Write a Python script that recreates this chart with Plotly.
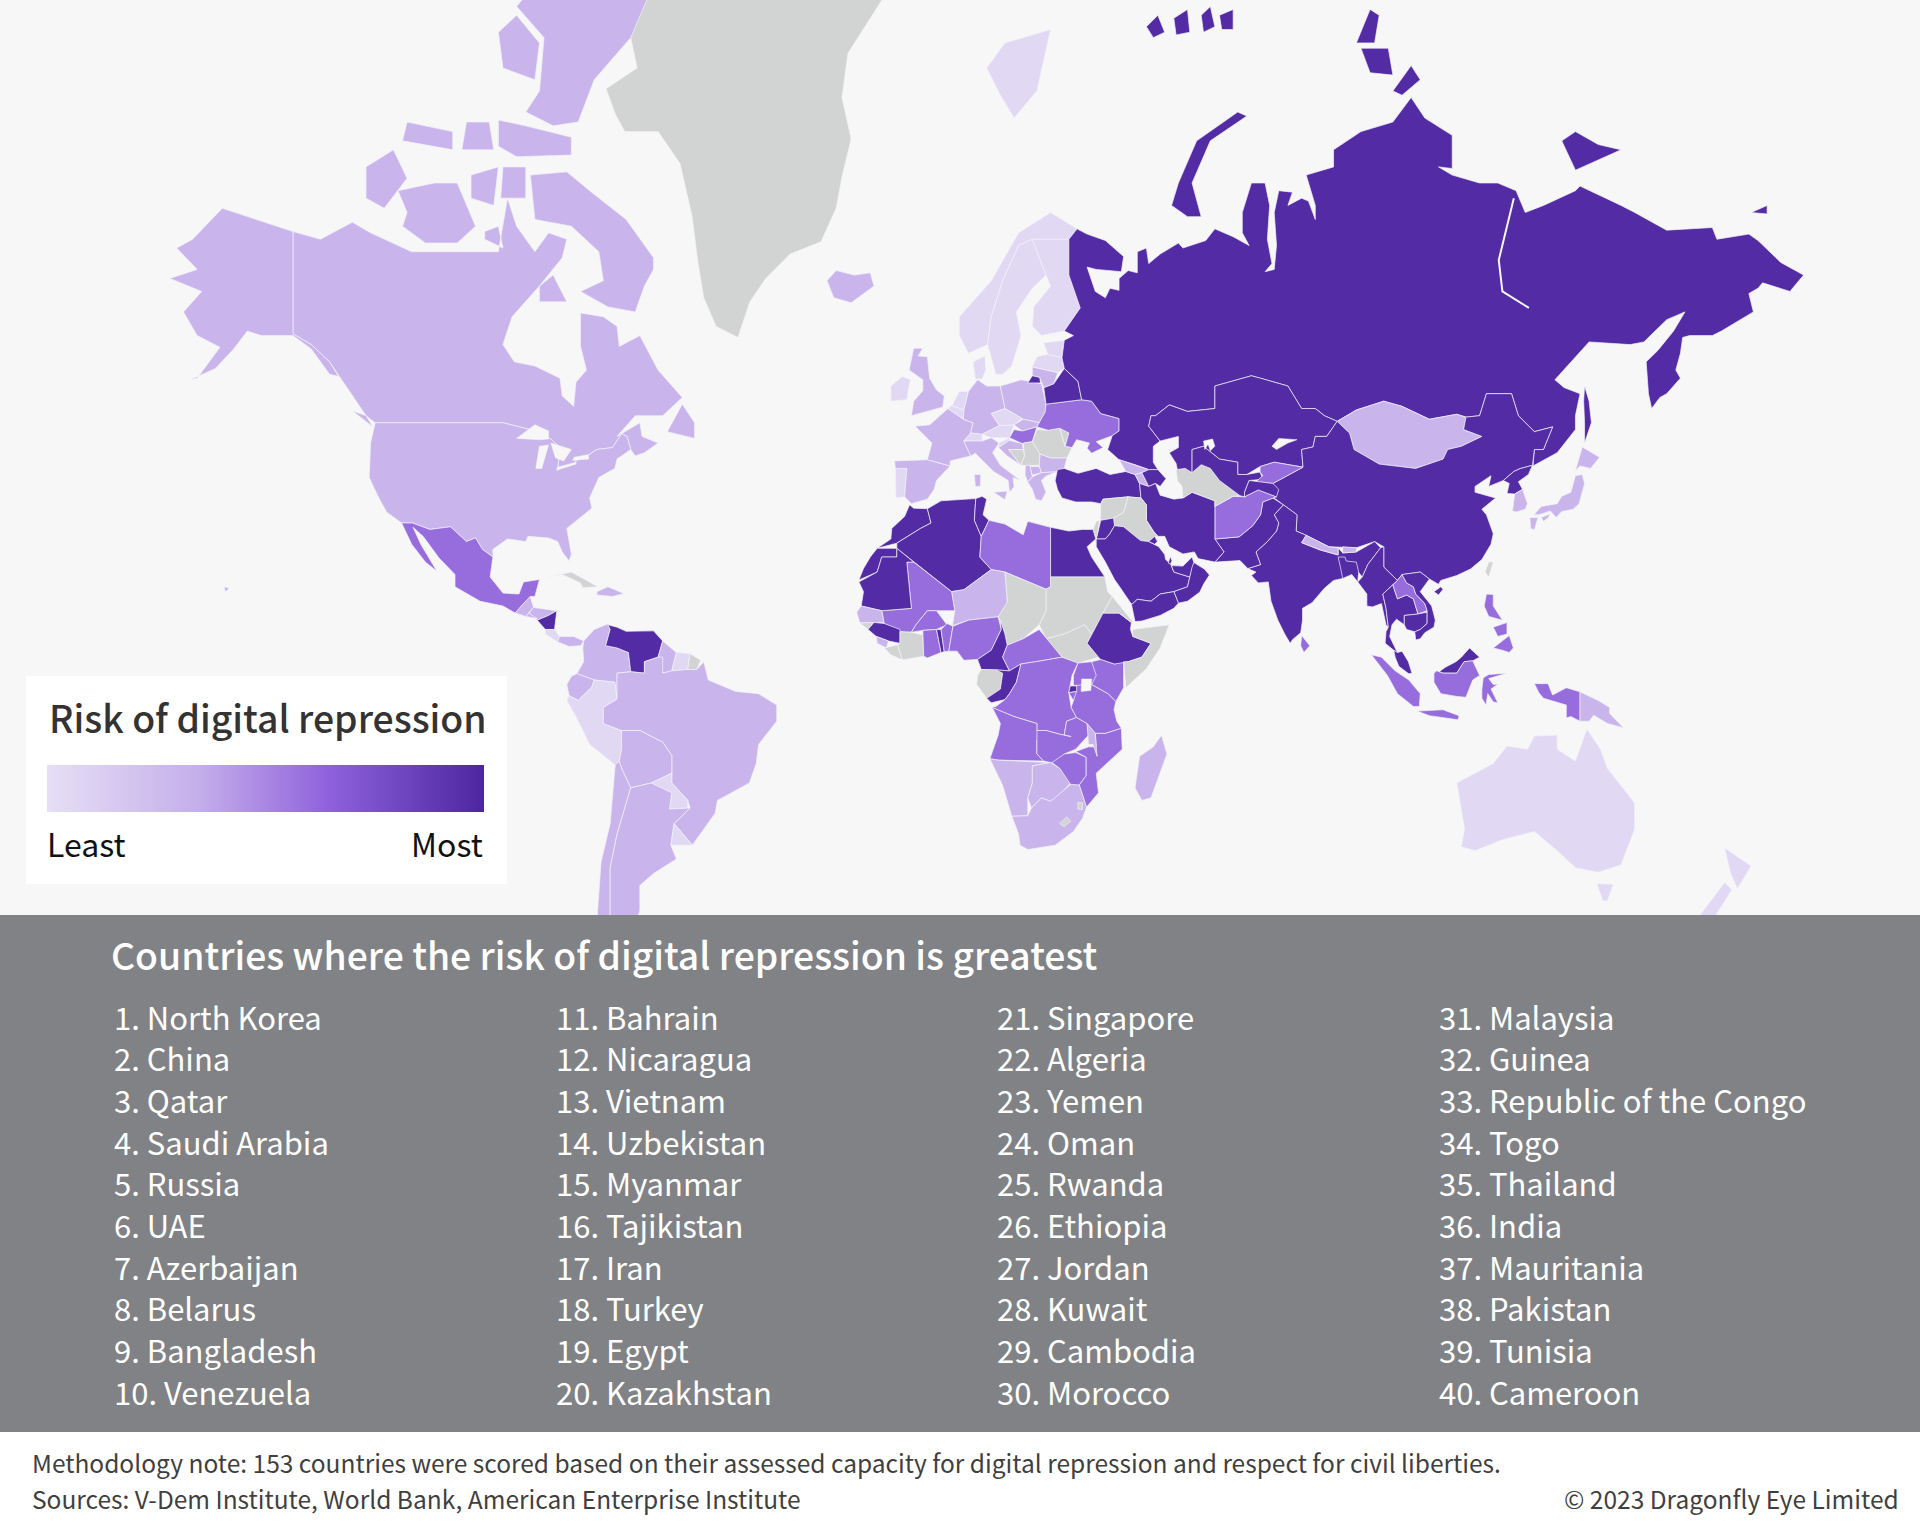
import math
import plotly.graph_objects as go
from plotly.colors import sample_colorscale

# --- text ---
legend_title = "Risk of digital repression"
panel_title = "Countries where the risk of digital repression is greatest"
ranked = [
    "North Korea", "China", "Qatar", "Saudi Arabia", "Russia", "UAE", "Azerbaijan", "Belarus", "Bangladesh", "Venezuela",
    "Bahrain", "Nicaragua", "Vietnam", "Uzbekistan", "Myanmar", "Tajikistan", "Iran", "Turkey", "Egypt", "Kazakhstan",
    "Singapore", "Algeria", "Yemen", "Oman", "Rwanda", "Ethiopia", "Jordan", "Kuwait", "Cambodia", "Morocco",
    "Malaysia", "Guinea", "Republic of the Congo", "Togo", "Thailand", "India", "Mauritania", "Pakistan", "Tunisia", "Cameroon",
]
note_1 = "Methodology note: 153 countries were scored based on their assessed capacity for digital repression and respect for civil liberties."
note_2 = "Sources: V-Dem Institute, World Bank, American Enterprise Institute"
copyright_text = "© 2023 Dragonfly Eye Limited"

# --- risk tiers (0 = least, 1 = most) ---
tier_values = {"top": 0.97, "upper": 0.60, "lower": 0.30, "least": 0.05}
top_risk = ["Russia", "China", "Kazakhstan", "Uzbekistan", "Tajikistan", "Iran", "Turkey", "Azerbaijan", "Jordan", "Saudi Arabia",
            "Kuwait", "Qatar", "UAE", "Oman", "Yemen", "Egypt", "Algeria", "Tunisia", "Morocco", "Western Sahara", "Mauritania",
            "Guinea", "Togo", "Cameroon", "Republic of the Congo", "Rwanda", "Ethiopia", "India", "Pakistan", "Bangladesh",
            "Myanmar", "Thailand", "Vietnam", "Cambodia", "Malaysia", "North Korea", "Belarus", "Venezuela", "Nicaragua"]
upper_risk = ["Mexico", "Libya", "Mali", "Burkina Faso", "Benin", "Ghana", "Nigeria", "Central African Republic", "DR Congo", "Angola",
              "Zambia", "Zimbabwe", "Mozambique", "Tanzania", "Kenya", "Uganda", "Burundi", "Ukraine", "Hungary", "Afghanistan",
              "Kyrgyzstan", "Laos", "Indonesia", "Philippines", "Sri Lanka"]
lower_risk = ["Canada", "USA", "Colombia", "Ecuador", "Brazil", "Bolivia", "Chile", "Argentina", "Guyana", "Guatemala", "Honduras",
              "El Salvador", "Panama", "Dominican Republic", "Niger", "Senegal", "Sierra Leone", "Namibia", "Botswana", "South Africa",
              "Madagascar", "Malawi", "Spain", "France", "UK", "Iceland", "Germany", "Poland", "Italy", "Lithuania", "Croatia",
              "Albania", "North Macedonia", "Greece", "Bulgaria", "Slovakia", "Georgia", "Armenia", "Mongolia", "Nepal", "Bhutan",
              "South Korea", "Japan", "Papua New Guinea"]
least_risk = ["Portugal", "Ireland", "Norway", "Sweden", "Finland", "Denmark", "Estonia", "Latvia", "Netherlands", "Belgium", "Switzerland",
              "Austria", "Czechia", "Slovenia", "Peru", "Paraguay", "Uruguay", "Suriname", "Costa Rica", "Australia", "New Zealand"]
no_score = ["Greenland", "Cuba", "Romania", "Moldova", "Serbia", "Bosnia", "Syria", "Iraq", "Israel", "Turkmenistan", "Sudan", "South Sudan",
            "Chad", "Gabon", "Guinea-Bissau", "Liberia", "Ivory Coast", "Eritrea", "Somalia", "Lesotho", "Eswatini", "French Guiana", "Taiwan"]

# --- simplified outlines, "lon,lat" pairs; longitudes past 180 keep Chukotka joined ---
outlines = {
    "Greenland": ["-67,80.2 -65.6,79 -72.4,78.1 -70.4,76.9 -68.3,76 -61,76 -56.2,74.2 -53.6,70.8 -52.3,67.2 -51,63.9 -48.3,61 -43.5,59.8 -40.9,63.5 -37.4,65.7 -32.1,67.8 -25.3,68.8 -22,71.3 -20.7,73.4 -18.7,75.6 -20.7,77.7 -19.4,79.6 -12,81.5 -12,83.5 -61,83.5"],
    "Canada": ["-141,69.6 -135,69 -128,70.3 -124,69.5 -115,68 -108,68 -100,68 -96,68 -94,72 -92,70 -88,68 -85,69.5 -81,69 -82,67.5 -87,65 -93,62 -95,59 -92.5,57 -88,56.5 -82.5,55 -82,52.7 -79.5,51.3 -79,54.5 -76.7,56 -78,58.8 -78,62.4 -73,62 -70,61 -69.5,58.8 -65,60 -61,56 -55.7,52.5 -60,50 -66,50 -70,47 -65,49 -64.5,47 -61,46 -64,44.5 -66,44 -67,45 -67.8,47 -69,47.4 -71,45.3 -74.5,45 -76.5,44 -79,43.3 -79,42.8 -83,42 -82.5,45.3 -84.5,46.6 -89,48 -95,49 -123,49 -125,50 -130,54.5 -133,57 -137,59 -141,60.2",
               "-59,47.7 -53,46.7 -53,49 -55.7,51.6", "-128,50.7 -123.5,48.4 -125,50",
               "-62,66.5 -64,65 -66,62.5 -72,63 -78,64.5 -73,65.5 -74,68 -80,70 -88,70.5 -89,73.5 -81,73.7 -76,72.5 -68,70.5 -62,67.5",
               "-117,70 -112,68.7 -105,68.7 -101,70 -105,73 -110,73 -118,72.5 -116,71", "-125,72 -121,71.3 -116,73.3 -119,75 -125,74",
               "-90,77 -84,76.3 -78.5,76.5 -75,78.5 -67,80.2 -62,82 -70,83.1 -85,82.5 -92,81.3 -86,80.2 -87,78",
               "-96,75.2 -92,74.6 -80,74.7 -80,75.7 -90,76.3 -96,76.6", "-95,79 -88,78.5 -87,80 -92,81 -96,80.4",
               "-117,75.5 -106,75 -106,76 -116,76.5", "-104,75 -97,75 -98,76.5 -103,76.5",
               "-95.5,72 -90,72 -90,74 -95,74", "-102,72 -97,71.5 -96,74 -102,73.5", "-99,69 -95,68.3 -96,70 -99,69.6",
               "-87,63.5 -81,63.5 -84,66 -87,65"],
    "USA": ["-123,49 -95,49 -89,48 -84.5,46.6 -82.5,45.3 -83,42 -79,42.8 -79,43.3 -76.5,44 -74.5,45 -71,45.3 -69,47.4 -67.8,47 -67,45 -70,43.5 -70.5,42 -74,40.5 -76,37 -75.5,35.2 -81,31.5 -80,26.5 -80.5,25.2 -82,27 -83,29 -85,29.7 -89.5,30 -90,29 -94,29.5 -97.2,27.5 -97.2,26 -99.5,27.5 -101,29.7 -103,29 -106.5,31.8 -111,31.3 -114.8,32.5 -117.2,32.5 -120.5,34.5 -122.5,37.5 -124.3,40.5 -124,46",
            "-141,69.6 -156.5,71.3 -163,69 -166.5,68.3 -162,66.5 -168,65.7 -161,64.5 -165,62.5 -162,60 -157,58.7 -162,55 -163.5,54.8 -158,56.2 -154,58.5 -151,60.5 -148,60 -141,60 -137,58.5 -133,55.5 -131,55.2 -133,57 -137,59 -141,60.2",
            "-156,20 -155,19.7 -155.7,19 -156,19.5"],
    "Mexico": ["-117.2,32.5 -114.8,32.5 -111,31.3 -106.5,31.8 -103,29 -101,29.7 -99.5,27.5 -97.2,26 -97.8,22 -95,18.7 -91.5,18.5 -90.5,21 -87,21.5 -88,18 -89,18 -91,16 -92.3,14.5 -95,16 -100,17 -105.5,20 -105.5,22.5 -109,25.8 -112.5,30 -114.7,31.7 -113,28.5 -109.5,23.2 -112,25 -115,28.5"],
    "Guatemala": ["-92.3,14.5 -91,16 -89,18 -88.3,15.7 -90,13.8"],
    "Honduras": ["-89.3,14.5 -88.3,15.7 -83.3,15 -85,14 -87.5,13"],
    "El Salvador": ["-90,13.8 -89.3,14.5 -87.5,13.3"],
    "Nicaragua": ["-87.5,13 -85,14 -83.2,15 -83.7,11 -85.7,11"],
    "Costa Rica": ["-85.7,11 -83.7,11 -82.6,9.5 -83,8.3 -85.7,10"],
    "Panama": ["-83,8.3 -82.6,9.5 -79.5,9.5 -77.3,8.5 -78,7.5 -80.5,7.3"],
    "Cuba": ["-85,22 -80,23 -74.2,20 -77.5,19.8 -78,20.8 -82,22.5"],
    "Dominican Republic": ["-74.4,19 -72,20 -68.5,18.6 -71,18 -74.4,18.3"],
    "Colombia": ["-77.3,8.5 -75,11 -72,12.2 -71.5,11 -72.5,7.5 -70,7 -67.5,6 -67,1.8 -70,1.5 -70,-4.2 -70.5,-0.5 -75,0 -78.8,1.4 -77.3,4 -77.5,7"],
    "Venezuela": ["-71.5,11 -72,12 -70,11.5 -68,10.6 -62,10.7 -60,8.5 -61,5 -64,4 -64,1.5 -67,1.8 -67.5,6 -70,7 -72.5,7.5"],
    "Guyana": ["-60,8.5 -57,6 -58,2 -60,1.5 -61,5"],
    "Suriname": ["-57,6 -54,5.8 -54.5,2.3 -58,2"],
    "French Guiana": ["-54,5.8 -51.7,4.3 -52.5,2.3 -54.5,2.3"],
    "Ecuador": ["-80,0.8 -78.8,1.4 -75,0 -75.5,-1.5 -78.5,-4.5 -80.5,-3.4 -81,-1"],
    "Peru": ["-81,-4.5 -80.5,-3.4 -78.5,-4.5 -75.5,-1.5 -75,0 -70.5,-0.5 -70,-4.2 -73,-6 -73,-9.5 -69,-11 -69,-15 -69.5,-17.5 -70.4,-18.3 -76,-14 -79,-8"],
    "Brazil": ["-60,5 -60,1.5 -58,2 -54.5,2.3 -52.5,2.3 -51,4 -50,0 -44,-2.5 -39,-3 -35,-5.5 -35,-9 -39,-14 -39.5,-18 -41,-22 -48,-25.5 -48.5,-28 -53.5,-34 -57.5,-30 -54,-27 -54.5,-25.5 -58,-22 -58,-20 -58,-16.3 -60,-13.5 -65,-11 -69,-11 -73,-9.5 -73,-6 -70,-4.2 -70,1.5 -67,1.8 -64,1.5 -64,4 -61,5"],
    "Bolivia": ["-69,-11 -65,-11 -60,-13.5 -58,-16.3 -58,-20 -62.5,-22 -67,-23 -69,-19 -69.5,-17.5 -69,-15"],
    "Paraguay": ["-62.5,-22 -58,-20 -58,-22 -54.5,-25.5 -54.5,-27 -58.5,-27.2 -58,-24"],
    "Chile": ["-70.4,-18.3 -69.5,-17.5 -69,-19 -67,-23 -70,-32 -71.5,-38 -71.5,-52 -75,-52 -73.5,-37 -71.5,-30"],
    "Argentina": ["-67,-23 -62.5,-22 -58,-24 -58.5,-27.2 -54,-27 -57.5,-30 -58.2,-34 -57,-36.5 -62,-39 -65,-41 -65,-45 -68,-52 -71.5,-52 -71.5,-38 -70,-32"],
    "Uruguay": ["-57.5,-30 -53.5,-34 -58.2,-34"],
    "Iceland": ["-24,65.5 -22,66.4 -18,66 -14.5,66.2 -13.7,65 -18.7,63.4 -22.5,63.9"],
    "Ireland": ["-10,52 -6.5,52.2 -6,54 -5.7,54.8 -7.5,55.2 -10,54"],
    "UK": ["-5.5,50 1.4,51.2 1.7,52.7 0,53.5 -1.5,55 -2,57.6 -4,57.7 -3,58.6 -5,58.6 -6,56 -3,54.8 -3,53.4 -5,52"],
    "Portugal": ["-9,42 -6.5,42 -7,37.2 -8.9,37"],
    "Spain": ["-9.2,43.2 -2,43.4 3,42.4 0,40 -0.5,38.5 -2,36.8 -5.5,36 -7,37.2 -6.5,42 -9,42"],
    "France": ["-4.7,48.5 -1.5,48.7 2.5,51 5.9,49.5 8,49 7.5,47.5 6,46.3 7.5,44 3,43.2 3,42.4 -2,43.4 -1,46"],
    "Belgium": ["2.5,51 3.4,51.4 6,50.8 5.9,49.5"],
    "Netherlands": ["3.4,51.4 6,50.8 7,53.3 5,53.3"],
    "Germany": ["6,50.8 7,53.3 9,54.8 11,54 14,54 15,51 12,50.3 13.8,48.6 10,47.3 7.5,47.5 8,49 5.9,49.5"],
    "Denmark": ["8,57 10.6,57.7 10.8,56 10,54.9 8.5,54.9"],
    "Switzerland": ["6,46.3 7.5,47.5 10,47.3 10,46.3"],
    "Austria": ["10,47.3 13.8,48.6 17,48.7 16,46.8 12,46.8"],
    "Italy": ["7.5,44 6,46.3 10,46.3 12,46.8 13.7,46 12.3,44.5 14,42.5 18.4,40 16.8,40.5 17,38.9 16,38 15.7,40 12.5,41.5 10.5,43 8.5,44.4",
              "12.5,38 15.5,38.2 15,36.7", "8.3,41 9.7,41 9.6,39 8.5,39"],
    "Poland": ["14,54 18.5,54.8 23,54.3 24,51.6 23.8,50.5 22.5,49 19,49.5 15,51"],
    "Czechia": ["12,50.3 15,51 18.8,49.6 17,48.7 13.8,48.6"],
    "Slovakia": ["17,48.7 19,49.5 22.5,49 22,48.4 18.8,47.8"],
    "Hungary": ["16,46.8 17,48 18.8,47.8 22,48.4 21,46.2 18.8,45.9"],
    "Slovenia": ["13.7,46 16,46.8 16,46.4 13.6,45.3"],
    "Croatia": ["13.6,45.3 16,46.4 18.8,45.9 19,45 15.8,45 18.5,42.5 15.5,44"],
    "Bosnia": ["15.8,45 19,45 19.3,44 18.5,42.5"],
    "Serbia": ["19,46 21,46.2 22.7,44.3 22.5,42.5 20.5,42.5 18.5,42.5 19.3,44"],
    "Albania": ["19.5,42.5 20.5,42.5 21,40.6 20,39.7 19.4,41"],
    "North Macedonia": ["20.5,42.3 22.5,42.3 23,41.3 21,40.9"],
    "Greece": ["20,39.7 21,40.6 23,41.3 26.3,41.5 24,40.7 23,40 24,38 23,36.5 21.7,36.8 21,38.5"],
    "Bulgaria": ["22.7,44.3 25,43.7 28.6,43.7 28,42 26.5,41.5 23,41.3 22.5,42.5"],
    "Romania": ["22,48 24.5,47.9 27,48.2 28.2,45.5 29.7,45.3 28.6,43.7 25,43.7 22.7,44.3 21,46.2"],
    "Moldova": ["27,48.2 29,47.5 28.2,45.5"],
    "Ukraine": ["23.8,50.5 24,51.6 31.8,52.2 34,52 36,50.3 40,49.6 40,47.8 38.5,47.1 35,46.2 36.5,45.3 34,44.4 33,45.2 33.5,46 30.7,46.5 29.7,45.3 28.2,45.5 29,47.5 27,48.2 24.5,47.9 22,48.4 22.5,49"],
    "Belarus": ["23.5,53.8 25.7,54.3 28,56.2 31,54.6 31.8,52.2 24,51.6"],
    "Lithuania": ["21,55.3 22.6,55.1 23.5,53.8 25.7,54.3 26.6,55.7 21,56.4"],
    "Latvia": ["21,56.4 26.6,55.7 28,56.2 27.5,57.5 24.4,57.9 22,57.6"],
    "Estonia": ["23.5,59.2 28,59.5 27.5,57.5 24.4,57.9"],
    "Norway": ["5,60 7,58 11.2,59 12,62 14.5,65.5 18,68.5 21,69 25,69 29,69 30.8,69.8 25,71 18,69.5 12,65.5 5,62",
               "11,79 15,80 25,80.5 22,78 17,76.7 14,77.8"],
    "Sweden": ["11.2,59 13,55.5 14.5,55.5 16.5,56.5 18.5,60 17.5,62.5 21,64.8 24,66 21,69 18,68.5 14.5,65.5 12,62"],
    "Finland": ["21,61 21.3,63 25,65 24,66 21,69 25,69 29,69 29,66 31.5,62.9 28,60.5 23,60"],
    "Russia": ["30.8,69.8 33,69.4 37,68.9 41,67.6 40.5,66.3 35,66.5 33,66.7 34.8,64.5 37,63.9 38,64.8 40,64.6 40,65.7 42,66.4 44,66.2 44,68 46,68.3 46.5,67 49,67.8 53,68.7 54,68.3 59,68.9 61,69.8 65,69.2 68.5,68.5 67,69.5 67,71 69,73 72,73 73,71.5 72.5,69 73.5,67 72,66.3 74,66.5 74.5,68.5 74,71 75,72.5 78,72.4 77,71.5 80,72 81.5,71.8 83,70.5 83,71.5 81,73.5 87,74 87,75 93,76 100,76.5 104,77.7 107,76.7 113,75.8 113,73.9 110,74 113,73.5 119,73 123,73 127,72.5 129,71 133,71.5 140,72.5 141,72.8 150,71.5 153,71 160,69.7 170,69.9 171,69 178,69.4 180,68.9 185,67.1 190,66 187,64.5 181,65.3 180,64.8 178,64.3 179,62.5 172,60.5 170,60 165,60 163.5,59.8 163,58 162,56 163,55 160,53 158.5,52.5 156.7,51 156,53 155.5,57 158,58.3 161.5,60.5 164,62.5 160,61.7 155,59.3 152,59 143,59.3 135.5,54.8 137.5,53.8 141,53 140,50 140,48 136,44.5 132,43 130.7,42.4 131,45 133,45 135,48.4 131,47.7 127.5,50 126,53 120.5,53 119,50 116,49.8 114,50.2 108,49.5 102,51.3 98,52 92,50.8 87.8,49.2 85,50 83,51 80,51 77,54 71,55 69,55.3 61,54 61,51 55,50.6 51,51.5 48,50 47,50 46.5,48.5 49,46.3 47.5,45.5 47.5,43 48.5,41.8 46.5,41.8 43.5,42.6 40,43.4 37.5,45 38.5,47.1 40,47.8 40,49.6 36,50.3 34,52 31.8,52.2 31,54.6 28,56.2 27.5,57.5 28,59.5 30,60 28,60.5 31.5,62.9 29,66 29,69",
               "142,54 143,52 143.5,49 142,46 142,49 141.8,52",
               "51.5,71.5 55,70.7 58,70.7 56,73 60,75.5 68,76.8 66,77 57,75.5 53,73",
               "92,80 95,81.2 97,81 96,80", "93,79.8 99,79.8 100,78.7 95,78.8", "100,78 104,79.1 106,78.5 102,77.8",
               "137,75.5 140,76 145,75.3 150,75 140,73.8", "178.5,71 182,71.5 182,70.9",
               "20,54.4 22.8,54.4 22.6,55.1 21,55.3",
               "46,80.6 48.5,81 50,80.4 47.5,80.2", "52,80.9 55,81.2 55.5,80.4 52.5,80.3", "58,81 60,81.3 61,80.6 58.5,80.4", "62,81 65,81.2 65,80.5 62.5,80.5"],
    "Kazakhstan": ["46.5,48.5 47,50 48,50 51,51.5 55,50.6 61,51 61,54 69,55.3 71,55 77,54 80,51 83,51 85,50 87.8,49.2 85.5,47 83,47 82.5,45.4 80,45 80.3,42.2 74,43 70.9,42.3 68,41 66,41 66,43 62,43.5 58.5,45.5 56,45 56,41.3 52.8,41.7 52.5,42.8 51,44.5 53,45.3 53,47 49,46.3"],
    "Mongolia": ["87.8,49.2 92,50.8 98,52 102,51.3 108,49.5 114,50.2 116,49.8 115.5,48 119.5,47 115,45.5 112,45 111,43.5 105,42 97,42.7 91.5,45 90.5,47.5"],
    "China": ["73.7,39.5 74,37 76,35.8 79,34 78.8,31 81,30.2 86,28 92,27.8 96,29 98,28 98,24 101,21.3 102,22.5 106,23 108,21.6 110,20.5 110.5,21.3 114,22.3 117,23.6 119.5,25.5 121.5,28.5 122,30.5 120.5,34 119.5,35 122.5,37 120,37.5 118,38 118,39 121.5,40.8 121,39 124.2,40 126.5,41.5 128,42 130.6,42.5 131,45 133,45 135,48.4 131,47.7 127.5,50 126,53 120.5,53 119,50 116,49.8 115.5,48 119.5,47 115,45.5 112,45 111,43.5 105,42 97,42.7 91.5,45 90.5,47.5 87.8,49.2 85.5,47 83,47 82.5,45.4 80,45 80.3,42.2 76,40.5",
              "109,19 110.5,20 111,19.5 110,18.3"],
    "Taiwan": ["120.2,23 121,25 122,25 121,22"],
    "North Korea": ["124.2,40 126.5,41.5 128,42 130.6,42.5 129.7,41 127.5,39.8 128.4,38.5 126.7,37.7 125,37.8 125.5,39.5"],
    "South Korea": ["126.2,34.7 126.7,37.7 128.4,38.5 129.5,36 129,35 127,34.5"],
    "Japan": ["130.9,34 132.5,35.5 136,36 137,37.3 139,38 140,40.8 141.5,41 142,39.5 140.8,36 139.5,35 137,34.6 135.8,33.5 134.5,34.7 132,34",
              "130,33.5 131.8,33.5 131,31.2 130.2,31.5", "132.5,33.5 134.5,34.2 134,33.4 133,32.8", "140,41.6 141.5,45.4 145.3,43.8 143.3,42 141,42.4"],
    "India": ["74,34 76,35.8 79,34 78.8,31 81,30.2 80,28.8 84,27.4 88,26.4 88,27.8 89,26.8 92,27 96,29 97.3,27.8 94.5,24.5 93.3,22 92,23.5 91,23 89,21.7 87,21.3 85,19.7 82.3,16.7 80.2,15.5 80.2,13 79.8,10.3 78,8.8 77.5,8 76.3,10 74.8,13 73.3,17 72.8,20 72.7,21 70.5,20.8 69,22.3 70,23 68.2,23.7 71,24.5 70,27 72.5,29 74.5,31 75,32.5"],
    "Pakistan": ["61,25 66.5,25.3 68.2,23.7 71,24.5 70,27 72.5,29 74.5,31 75,32.5 74,34 76,35.8 73.7,37 71.5,36.3 71,34 69.3,32 66.3,29.9 61,29.5 63,27"],
    "Afghanistan": ["61,29.5 66.3,29.9 69.3,32 71,34 71.5,36.3 74.5,37.2 70.5,38.4 67.5,37.2 65,37.3 61,35.5 61,31.5"],
    "Nepal": ["80,28.8 81,30.2 86,28 88,27.8 88,26.4 84,27.4"],
    "Bhutan": ["89,26.8 89,28 92,27.8 92,27"],
    "Bangladesh": ["88,26 89.5,26 89.8,25.2 92,25 92.5,23 92.3,21 91,22.5 89,21.7 88.5,24"],
    "Sri Lanka": ["80,9.7 81.8,7.5 80.5,6 79.8,7.5"],
    "Myanmar": ["92.3,21 93.3,22 94.5,24.5 97.3,27.8 98,28 98,24 101,21.3 100,20.4 97.8,18.5 98.5,15.5 99,11.5 98.5,12 97.5,16.5 95.5,15.8 94.3,16 94.3,18.5"],
    "Thailand": ["100,20.4 101,17.5 103,18.3 104.5,17.5 105.5,14.3 102.5,14 102.5,12 100.8,13.2 99.8,12 99.3,9.5 100.5,7 101,6 100.2,6.5 98.3,8 98.5,10.5 99,11.5 98.5,15.5 97.8,18.5"],
    "Laos": ["100,20.4 101,21.3 102,22.5 103,20.8 104.5,20 105,18.5 107,16.5 107.5,15 105.5,14.3 104.5,17.5 103,18.3 101,17.5"],
    "Cambodia": ["102.5,14 105.5,14.3 107.5,14.7 107.5,12.3 106,11 104.8,10.5 103,11 102.5,12"],
    "Vietnam": ["102,22.5 106,23 108,21.6 106,19 108.5,16 109.3,13 109,11.5 107,10.3 106,9 105,8.7 104.8,10.5 106,11 107.5,12.3 107.5,14.7 107.5,15 107,16.5 105,18.5 104.5,20 103,20.8"],
    "Malaysia": ["100.2,6.5 101,6 102,6.3 103.4,4 104.2,1.4 103.4,1.4 101.3,3 100.5,5", "109.6,2 111,1.5 114,1.5 115.6,4 117.5,4.2 119,5 116.8,7 115,5 113.8,4 111.5,2.8 110,1.7"],
    "Indonesia": ["95.3,5.5 97.5,5 100.5,2 103.5,0 106,-3 105.8,-5.8 104.5,-5.8 101,-3 98.8,1", "105.3,-6.8 108.5,-6.7 111,-6.5 114.5,-7.8 114.3,-8.7 108,-7.8",
                  "109,1.5 109.6,2 111,1.5 114,1.5 115.6,4 117.5,4.2 119,1 117.5,0 116,-3.8 114,-3.6 110.5,-3 109,-0.5",
                  "119.8,0.5 121,1.2 125,1.5 121,0.3 122,-1 123,-0.9 121.5,-2 123,-5 122,-4.8 120.8,-3 120.4,-5.5 119.5,-4 119.5,-2",
                  "131,-0.8 134,-0.8 135,-3.3 138,-1.7 141,-2.6 141,-9 139,-8 138,-8.3 138,-5.5 133,-4 132,-2.8"],
    "Papua New Guinea": ["141,-2.6 145,-4.5 147.5,-6 147.5,-7.3 150.5,-10.4 147,-9.5 144,-7.7 143,-9 141,-9"],
    "Philippines": ["120.5,18.5 122,18.4 122,16 124,13 121,13.8 120,16", "122,7 125.5,9.7 126.4,7 125.5,6 124,6.5", "122,11.5 125,12.5 125,10 123,9.5"],
    "Turkey": ["26,40 26.5,41.8 28,42 31,41.2 35,42 38,41 41.5,41.5 43.5,41 44.5,39.5 44.8,37 42,37.2 36.5,36.8 36,36 34,36.3 30.5,36.3 27.5,37 26.5,38.5"],
    "Georgia": ["40,43.4 43.5,42.6 46.5,41.8 45,41.3 43.5,41 41.5,41.5"],
    "Armenia": ["43.5,41 45,41.3 45.5,40.5 46.5,39 44.5,39.5"],
    "Azerbaijan": ["45,41.3 46.5,41.8 48.5,41.8 50.3,40.3 49,39 48,39.5 46.5,39 45.5,40.5"],
    "Iran": ["44.5,39.5 46.5,39 48,39.5 49,37.5 52,36.8 54,37 56,38 61,36.5 61,31.5 61,29.5 63,27 61,25 57.3,25.7 56.5,27 54,26.6 51,28 50,30 48.5,30 47.5,31 46,33 46,35.8 44.8,37"],
    "Syria": ["36,36 36.5,36.8 42,37.2 41,34.4 38.8,33.4 35.9,33"],
    "Iraq": ["42,37.2 44.8,37 46,35.8 46,33 47.5,31 48.5,30 47.8,30 46.5,29 44.7,29.2 41,31.8 39,32 38.8,33.4 41,34.4"],
    "Jordan": ["39,32 38.8,33.4 36,33 35.5,31.5 35,29.5 37,29.5 38,30.5"],
    "Israel": ["35,29.5 35.5,31.5 35.7,33 35,32.8 34.3,31.3"],
    "Saudi Arabia": ["35,29.5 37,29.5 38,30.5 39,32 41,31.8 44.7,29.2 46.5,29 47.8,28.5 48.7,28 50,26.5 50.2,25.5 51.3,24.6 52,23 55.5,22 55,20 52,19 49,18.5 47,17 44,17.4 43,16.5 42.7,16.4 40.5,19.5 39,21.5 37,25 35,28"],
    "Kuwait": ["46.5,29 47.8,30 48.4,29 47.8,28.5"],
    "Qatar": ["50.8,24.8 51.2,26.1 51.6,25.3 51.3,24.6"],
    "UAE": ["51.5,24.3 54,24.2 56,26 56.4,24.9 55.5,22 52,23"],
    "Oman": ["56,24 56.4,24.9 58.7,23.6 59.8,22.4 58.5,20.5 57.7,18.9 55,17 53,16.6 52,19 55,20 55.5,22"],
    "Yemen": ["42.7,16.4 43.5,12.7 45,12.8 49,14 52,15.5 53,16.6 52,19 49,18.5 47,17 44,17.4 43,16.5"],
    "Turkmenistan": ["52.5,41.8 54.5,42 56,41.3 58,42.6 60,42 62,40 65,38.3 66.5,37.4 65,37.3 61,35.5 61,36.5 56,38 54,37 53.8,39 52.8,40"],
    "Uzbekistan": ["56,41.3 56,45 58.5,45.5 62,43.5 66,43 66,41 68,41 70.9,41.4 71.5,40.2 68.5,40 67.5,38 67.5,37.2 66.5,37.4 65,38.3 62,40 60,42 58,42.6"],
    "Kyrgyzstan": ["70.9,42.3 74,43 80.3,42.2 76,40.5 73.7,39.5 70,39.8 71.5,40.8 70.9,41.4"],
    "Tajikistan": ["67.5,37.2 70.5,38.4 74.5,37.2 75,38.5 73.7,39.5 70,39.8 68.5,40 67.5,38"],
    "Morocco": ["-5.9,35.8 -5,35.2 -2,35.1 -1.2,32.5 -3.5,31.5 -8.7,28.7 -13,27.7 -10,29.5 -9.8,31.5 -7,33.7"],
    "Western Sahara": ["-13,27.7 -8.7,27.7 -8.7,26 -12,26 -13,23 -17,21.4 -16,23.7 -14.5,26"],
    "Algeria": ["-2,35.1 1,36.5 8.6,36.9 8.3,33 9.8,30 9.5,26 12,23.5 6,19.4 3.3,19 -5,25 -8.7,27.7 -8.7,28.7 -3.5,31.5 -1.2,32.5"],
    "Tunisia": ["8.6,36.9 10,37.3 11,36.8 10.2,34 11.5,33 10,30.3 9.8,30 8.3,33"],
    "Libya": ["11.5,33 15,32.3 19,30.3 20,32.8 25,31.7 25,20 24,19.5 15,23 12,23.5 9.5,26 9.8,30 10,30.3"],
    "Egypt": ["25,31.7 29,31 32,31.3 34.3,31.3 34.9,29.5 33,28 34,26 36.9,22 25,22"],
    "Sudan": ["25,22 36.9,22 37.5,19 38.5,18 36.5,14.5 34,10 32.5,12 28,10 24,9 22.5,12 24,15 24,19.5 25,20"],
    "South Sudan": ["24,9 28,10 32.5,12 34,10 33,8 35.5,5 31,3.7 27.5,5"],
    "Chad": ["15,23 24,19.5 24,15 22.5,12 19,9 15.5,7.6 15,10 14,13 13.5,14 15.5,16.8"],
    "Niger": ["4,15 3.5,11.8 7,13 10,13.3 13.5,13.7 15.5,16.8 15,23 12,23.5 6,19.4 3.3,19"],
    "Mali": ["-12,15 -11.5,12.3 -8,10.5 -5.5,10.4 -4.5,12 -2,15 0,15 4,15 3.3,19 -5,25 -6.5,25 -5.5,15.5"],
    "Mauritania": ["-17,21 -13,23 -12,26 -8.7,26 -8.7,27.7 -5,25 -6.5,25 -5.5,15.5 -12,15 -16.5,16 -16,19"],
    "Senegal": ["-17.5,14.7 -16.5,16 -12,15 -11.5,12.5 -16.8,12.4"],
    "Guinea-Bissau": ["-16.8,12.4 -13.7,12.5 -15,11"],
    "Guinea": ["-15,11 -13.7,12.5 -11.5,12.3 -8,11 -8,8 -10.5,8.5 -13.2,9.5"],
    "Sierra Leone": ["-13.2,9.5 -10.5,8.5 -11,7 -13,8"],
    "Liberia": ["-11.4,7 -8.5,7.7 -7.5,4.4 -10,5.5"],
    "Ivory Coast": ["-8,8 -8,10.5 -5.5,10.4 -3,9.8 -2.8,5.2 -7.5,4.4 -8.5,7.7"],
    "Burkina Faso": ["-5.5,10.4 -4.5,12 -2,15 0,15 2.3,12 0,11 -3,10.8"],
    "Ghana": ["-3,10.8 0,11 1,6 -2,4.8 -2.8,5.2"],
    "Togo": ["0,11 1,11 1.7,6.2 1,6"],
    "Benin": ["1,11 2.3,12.3 3.6,11.7 2.7,6.3 1.7,6.2"],
    "Nigeria": ["2.7,6.3 3.6,11.7 7,13 10,13.3 13.5,13.7 14.2,11 12,6.5 9,4.5 6,4.3 4.5,6.3"],
    "Cameroon": ["9,4.5 12,6.5 14.2,11 14,13 15,10 15.5,7.6 14.5,5 16,2 13,2.2 9.8,2.3"],
    "Central African Republic": ["15.5,7.6 19,9 22.5,11 27.5,5 23,4.2 18.5,3.5 16,2 14.5,5"],
    "Gabon": ["9,1 9.8,2.3 13,2.2 14.5,1.5 14,-2 11,-4 8.8,-1"],
    "Republic of the Congo": ["11,-4 14,-2 14.5,1.5 13,2.2 16,2 18.5,3.5 17.5,-0.5 16,-3 15,-4.3 12,-5"],
    "DR Congo": ["12,-6 13,-5.8 15,-4.3 16,-3 17.5,-0.5 18.5,3.5 23,4.2 27.5,5 31,3.7 29.7,1 29,-2.8 29.5,-6 30.7,-8.2 28.5,-9 28,-12 29.5,-12.3 27,-11.8 24,-11 22,-11 22,-9.5 17,-8"],
    "Angola": ["12.2,-6 17,-8 22,-9.5 22,-11 24,-11 22,-13 22,-16 23.5,-17.5 13.5,-17.3 11.7,-17 13.5,-12 14,-9.5"],
    "Zambia": ["22,-11 24,-11 27,-11.8 29.5,-12.3 28,-12 28.5,-9 30.7,-8.2 33,-9.5 33.3,-12 30.5,-15 28,-16 26,-18 23.5,-17.5 22,-16 22,-13"],
    "Namibia": ["11.7,-17 13.5,-17.3 25,-17.8 21,-18.5 21,-22 20,-25 20,-28.5 16.5,-28.6 14.5,-22.5"],
    "Botswana": ["21,-18.5 25,-17.8 27,-19 29.4,-22 26.5,-24.8 25,-25.7 23,-25 20.8,-27 20,-25 21,-22"],
    "South Africa": ["16.5,-28.6 20,-28.5 20.8,-27 23,-25 25,-25.7 29.4,-22.3 31.3,-22.4 32.9,-26.8 32,-29 30,-31.5 26,-34 20,-34.8 18.3,-34 18,-32"],
    "Lesotho": ["27,-30 28.5,-28.8 29.4,-29.5 28,-30.6"],
    "Eswatini": ["31,-25.9 32,-26 32,-27.3 31,-27.2"],
    "Zimbabwe": ["25.3,-17.8 28,-16 30.5,-15.7 32.8,-16.7 32.8,-20.5 31.3,-22.4 29.4,-22.3 27,-19"],
    "Mozambique": ["30.5,-15.5 33.3,-14.5 35,-14.5 34.8,-11.6 37,-11.6 40.5,-10.5 40.7,-15 35,-20 35.5,-24 32.9,-26.8 31.3,-22.4 32.8,-20.5 32.8,-16.7"],
    "Malawi": ["33,-9.5 34.8,-11.6 35,-14.5 35.2,-16.5 34.3,-14 33.3,-14"],
    "Tanzania": ["29.5,-6 30,-4.5 30.7,-1 34,-1 37.6,-3 39.3,-4.7 38.9,-6.5 39.5,-9 40.5,-10.5 37,-11.6 34.8,-11.6 33,-9.5 30.7,-8.2"],
    "Kenya": ["34,-1 34,4 36,4.5 39,3.5 41,4 41,-1.7 39.3,-4.7 37.6,-3"],
    "Uganda": ["30,-1.2 30,1 31,3.7 34,4 35,1 34,-1"],
    "Rwanda": ["29,-2.8 29.3,-1.3 30.7,-1.3 30.7,-2.5"],
    "Burundi": ["29,-2.8 30.7,-2.5 30,-4.5"],
    "Ethiopia": ["33,8 36.5,14.5 38.5,14.5 40,14.5 42.7,12.5 42.5,11 43,9.5 47,8 45,5 42,4 39,3.5 36,4.5 35.5,5"],
    "Eritrea": ["36.5,14.5 38.5,18 43,12.7 42.7,12.5 40,14.5"],
    "Somalia": ["43,11 51,12 49,7 46,2.5 41.5,-1.7 41,4 42,4 45,5 47,8 43,9.5"],
    "Madagascar": ["49.3,-12 50.5,-16 47,-25 45,-25.5 43.5,-23 44.5,-16.5 47.5,-14.5"],
    "Australia": ["114,-22 122,-18 125,-14.3 129.5,-15 131,-12.2 136,-12 136,-15 140,-17.5 142.5,-10.7 145.5,-15 147,-19 153,-26 153,-31 150,-37.5 145,-38.8 140,-38 136,-35 131,-31.5 124,-33 118,-35 115,-34.3 115.7,-31",
                  "144.7,-40.7 148.3,-40.8 147,-43.5 146,-43.5"],
    "New Zealand": ["172.7,-34.5 178.5,-37.7 175.5,-41.5 174,-39", "172.7,-40.5 174.3,-41.7 170.5,-46 167,-46"],
}

# water inside the land polygons
lakes = ["-92,46.7 -88,48.7 -85,47.8 -85,46.6 -87,46.5", "-87.8,42 -86.5,42 -85,45.7 -87,45.5", "-84.5,46 -80,45 -81.7,43.2 -83.5,43.7",
         "-83.3,41.7 -79,42.7 -79,43 -83,42.2", "-79.7,43.3 -76.2,43.5 -76.3,44.2 -79.4,43.8",
         "73.5,45.5 75,46.7 79,46.5 77,46 74.5,45", "58.5,46.3 60.5,46.6 61,45.5 60,44.8 59.5,45.8 58.8,45", "31.7,-2.5 31.8,0.2 34,0.2 33.8,-2.3"]
rivers = ["126.5,72 125,70 123.2,67.3 124,64.5 129.8,62.9"]

colorscale = [[0, "#e6dff6"], [0.35, "#c4aeea"], [0.65, "#8e60dc"], [1, "#4c26a0"]]
land_grey = "#d2d3d3"
water = "#f7f7f7"
PX_W, PX_H = 1920, 1530


def merc(lat):
    return math.degrees(math.log(math.tan(math.pi / 4 + math.radians(lat) / 2)))


def ring_xy(parts):
    xs, ys = [], []
    for part in parts:
        pts = [p.split(",") for p in part.split()]
        pts = pts + pts[:1]
        xs += [float(p[0]) for p in pts] + [None]
        ys += [merc(float(p[1])) for p in pts] + [None]
    return xs, ys


risk = {}
for tier, names in [("top", top_risk), ("upper", upper_risk), ("lower", lower_risk), ("least", least_risk)]:
    for n in names:
        risk[n] = tier_values[tier]

fig = go.Figure()
for name, parts in outlines.items():
    xs, ys = ring_xy(parts)
    score = risk.get(name)
    color = land_grey if score is None else sample_colorscale(colorscale, [score])[0]
    fig.add_trace(go.Scatter(x=xs, y=ys, mode="lines", fill="toself", fillcolor=color,
                             line=dict(color="#f4f1fb", width=0.7), name=name, hoveron="fills",
                             text=name, hoverinfo="text", showlegend=False))

xs, ys = ring_xy(lakes)
fig.add_trace(go.Scatter(x=xs, y=ys, mode="lines", fill="toself", fillcolor=water, line=dict(color=water, width=0.5),
                         hoverinfo="skip", showlegend=False))
for river in rivers:
    pts = [p.split(",") for p in river.split()]
    fig.add_trace(go.Scatter(x=[float(p[0]) for p in pts], y=[merc(float(p[1])) for p in pts], mode="lines",
                             line=dict(color=water, width=2), hoverinfo="skip", showlegend=False))

# colour key comes from the same scale as the countries
fig.add_trace(go.Scatter(x=[0, 0], y=[0, 0], mode="markers", hoverinfo="skip", showlegend=False,
                         marker=dict(size=1, opacity=0, color=[0, 1], cmin=0, cmax=1, colorscale=colorscale, showscale=True,
                                     colorbar=dict(orientation="h", x=47 / PX_W, xanchor="left", y=1 - 765 / PX_H, yanchor="top",
                                                   lenmode="pixels", len=437, thicknessmode="pixels", thickness=47,
                                                   xpad=0, ypad=0, outlinewidth=0, ticks="", showticklabels=False))))


def px_note(text, x, y, size, color, anchor="left", weight=400):
    fig.add_annotation(text=text, xref="paper", yref="paper", x=x / PX_W, y=1 - y / PX_H, xanchor=anchor, yanchor="middle",
                       showarrow=False, font=dict(size=size, color=color, family="Noto Sans CJK SC", weight=weight))


fig.add_shape(type="rect", xref="paper", yref="paper", x0=26 / PX_W, x1=507 / PX_W, y0=1 - 884 / PX_H, y1=1 - 676 / PX_H,
              fillcolor="white", line_width=0, layer="between")
fig.add_shape(type="rect", xref="paper", yref="paper", x0=0, x1=1, y0=1 - 1432 / PX_H, y1=1 - 915 / PX_H,
              fillcolor="#808285", line_width=0, layer="above")

px_note(legend_title, 47, 717, 37.4, "#333333", weight=500)
px_note("Least", 45, 843, 32, "#111111")
px_note("Most", 485, 843, 32, "#111111", anchor="right")
px_note(panel_title, 109, 954, 37.3, "#ffffff", weight=500)
col_x = [112, 554, 995, 1437]
for i, country in enumerate(ranked):
    px_note(f"{i + 1}. {country}", col_x[i // 10], 1016 + (i % 10) * 41.7, 31, "#ffffff")
px_note(note_1, 30, 1462, 24.5, "#3f3f3f")
px_note(note_2, 30, 1498, 24.5, "#3f3f3f")
px_note(copyright_text, 1901, 1498, 24.5, "#3f3f3f", anchor="right")

fig.update_layout(
    width=PX_W, height=PX_H, margin=dict(l=0, r=0, t=0, b=0), paper_bgcolor="white", plot_bgcolor=water, hovermode="closest",
    xaxis=dict(range=[-205.2, 215.5], visible=False, fixedrange=True),
    yaxis=dict(range=[-51.5, 149], visible=False, domain=[1 - 915 / PX_H, 1], fixedrange=True),
)

fig.write_html("out.html", config={"displayModeBar": False}, post_script="document.body.style.margin='0';")
